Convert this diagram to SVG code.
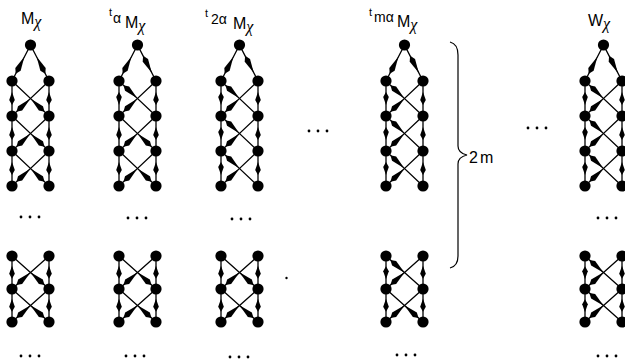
<svg xmlns="http://www.w3.org/2000/svg" width="625" height="364" viewBox="0 0 625 364">
<style>
.e{fill:none;stroke:#000;stroke-width:1.3;marker-mid:url(#hd)}
.v{fill:none;stroke:#000;stroke-width:1.3;marker-mid:url(#hv)}
.n circle{fill:#000}
.d{fill:#000}
.lb{font-family:"Liberation Sans",Arial,sans-serif;font-size:16px;fill:#000}
.chi{font-family:"Liberation Serif","DejaVu Serif",serif;font-style:italic;font-size:16px}
.sm{font-family:"Liberation Sans",Arial,sans-serif;font-size:11px;fill:#000}
.al{font-family:"Liberation Sans",Arial,sans-serif;font-size:14px;fill:#000}
.br{fill:none;stroke:#000;stroke-width:1.2}
</style>
<defs>
<marker id="hd" markerUnits="userSpaceOnUse" markerWidth="24" markerHeight="8" viewBox="-18 -4 22 8" refX="0" refY="0" orient="auto" overflow="visible"><path d="M-17,0 L-3,-3 L2,0 L-3,3 Z" fill="#000"/></marker>
<marker id="hv" markerUnits="userSpaceOnUse" markerWidth="14" markerHeight="8" viewBox="-10 -4 14 8" refX="0" refY="0" orient="auto" overflow="visible"><path d="M-10,0 L-2,-2.8 L3,0 L-2,2.8 Z" fill="#000"/></marker>
<g id="Mtop"><path class="e" d="M18.5,0 L4.6,27 L0,36"/><path class="e" d="M18.5,0 L32.4,27 L37,36"/></g>
<g id="Wtop"><path class="e" d="M18.5,0 L4.6,27 L0,36"/><path class="e" d="M37,36 L25,12.6 L18.5,0"/></g>
<g id="M35"><path class="v" d="M0,0 L0,21 L0,35"/><path class="v" d="M37,0 L37,21 L37,35"/><path class="e" d="M0,0 L31.1,29.4 L37,35"/><path class="e" d="M37,0 L5.9,29.4 L0,35"/></g>
<g id="W35"><path class="v" d="M0,35 L0,14 L0,0"/><path class="v" d="M37,0 L37,21 L37,35"/><path class="e" d="M37,35 L5.9,5.6 L0,0"/><path class="e" d="M37,0 L5.9,29.4 L0,35"/></g>
<g id="M33"><path class="v" d="M0,0 L0,19.8 L0,33"/><path class="v" d="M37,0 L37,19.8 L37,33"/><path class="e" d="M0,0 L31.1,27.7 L37,33"/><path class="e" d="M37,0 L5.9,27.7 L0,33"/></g>
<g id="W33"><path class="v" d="M0,33 L0,13.2 L0,0"/><path class="v" d="M37,0 L37,19.8 L37,33"/><path class="e" d="M37,33 L5.9,5.3 L0,0"/><path class="e" d="M37,0 L5.9,27.7 L0,33"/></g>
<g id="col"><circle cx="18.5" cy="45" r="5.6"/><circle cx="0" cy="81" r="5.6"/><circle cx="37" cy="81" r="5.6"/><circle cx="0" cy="116" r="5.6"/><circle cx="37" cy="116" r="5.6"/><circle cx="0" cy="151" r="5.6"/><circle cx="37" cy="151" r="5.6"/><circle cx="0" cy="186" r="5.6"/><circle cx="37" cy="186" r="5.6"/><circle cx="0" cy="256" r="5.6"/><circle cx="37" cy="256" r="5.6"/><circle cx="0" cy="289" r="5.6"/><circle cx="37" cy="289" r="5.6"/><circle cx="0" cy="322" r="5.6"/><circle cx="37" cy="322" r="5.6"/></g>
<g id="dots"><circle cx="-9" cy="0" r="1.4"/><circle cx="0" cy="0" r="1.4"/><circle cx="9" cy="0" r="1.4"/></g>
</defs>
<rect width="625" height="364" fill="#fff"/>

<g id="connectors">
<use href="#Mtop" x="12" y="45"/><use href="#M35" x="12" y="81"/><use href="#M35" x="12" y="116"/><use href="#M35" x="12" y="151"/><use href="#M33" x="12" y="256"/><use href="#M33" x="12" y="289"/>
<use href="#Wtop" x="119" y="45"/><use href="#W35" x="119" y="81"/><use href="#M35" x="119" y="116"/><use href="#M35" x="119" y="151"/><use href="#M33" x="119" y="256"/><use href="#M33" x="119" y="289"/>
<use href="#Wtop" x="221" y="45"/><use href="#W35" x="221" y="81"/><use href="#W35" x="221" y="116"/><use href="#W35" x="221" y="151"/><use href="#M33" x="221" y="256"/><use href="#M33" x="221" y="289"/>
<use href="#Wtop" x="386" y="45"/><use href="#W35" x="386" y="81"/><use href="#W35" x="386" y="116"/><use href="#W35" x="386" y="151"/><use href="#W33" x="386" y="256"/><use href="#M33" x="386" y="289"/>
<use href="#Wtop" x="585" y="45"/><use href="#W35" x="585" y="81"/><use href="#W35" x="585" y="116"/><use href="#W35" x="585" y="151"/><use href="#W33" x="585" y="256"/><use href="#W33" x="585" y="289"/>
</g>

<g id="node-M" class="n"><use href="#col" x="12"/><text class="lb" x="21" y="24">M<tspan class="chi" dy="3">χ</tspan></text></g>
<g id="node-tM" class="n"><use href="#col" x="119"/><text class="sm" x="109" y="16">t</text><text class="al" x="113" y="23">α</text><text class="lb" x="125" y="28">M<tspan class="chi" dy="3">χ</tspan></text></g>
<g id="node-t2M" class="n"><use href="#col" x="221"/><text class="sm" x="205" y="17">t</text><text class="al" x="211" y="24">2α</text><text class="lb" x="233" y="29">M<tspan class="chi" dy="3">χ</tspan></text></g>
<g id="node-tmM" class="n"><use href="#col" x="386"/><text class="sm" x="369" y="16">t</text><text class="al" x="374" y="22">mα</text><text class="lb" x="397" y="27">M<tspan class="chi" dy="3">χ</tspan></text></g>
<g id="node-W" class="n"><use href="#col" x="585"/><text class="lb" x="588" y="26">W<tspan class="chi" dy="3">χ</tspan></text></g>

<g id="ellipses" class="d">
<use href="#dots" x="30" y="217"/><use href="#dots" x="30" y="356"/>
<use href="#dots" x="137" y="218"/><use href="#dots" x="135" y="356"/>
<use href="#dots" x="241" y="219"/><use href="#dots" x="239" y="357"/>
<use href="#dots" x="406" y="355"/>
<use href="#dots" x="607" y="218"/><use href="#dots" x="607" y="356"/>
<use href="#dots" x="318" y="131"/><use href="#dots" x="537" y="128"/>
<circle cx="286.5" cy="278" r="1.2"/>
</g>

<g id="brace">
<path class="br" d="M450,42 Q458,44 458,55 L458,146 Q458,153 467,155 Q458,157 458,164 L458,256 Q458,266 450,268"/>
<text class="lb" x="469" y="163" font-size="15">2<tspan dx="2">m</tspan></text>
</g>
</svg>
